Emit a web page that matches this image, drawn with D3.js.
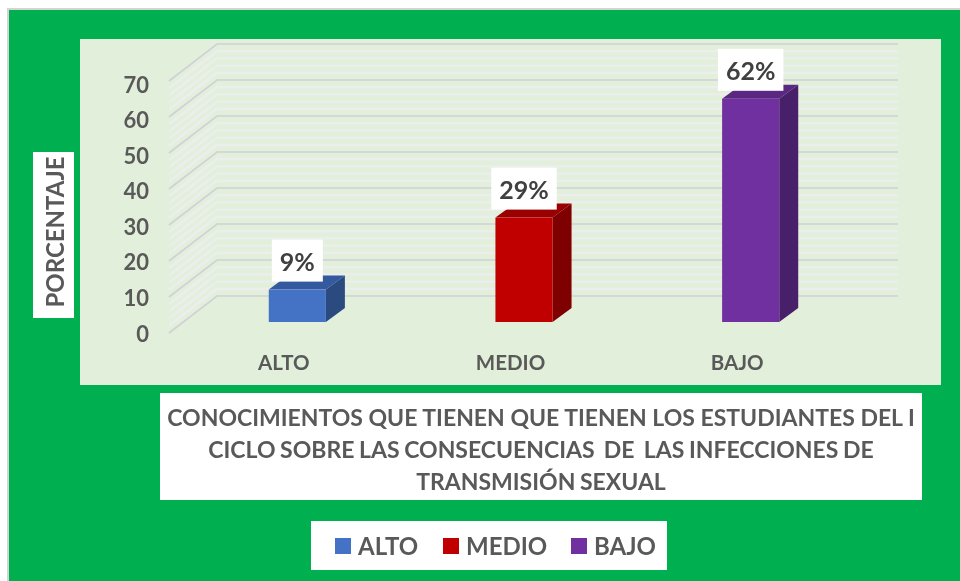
<!DOCTYPE html>
<html>
<head>
<meta charset="utf-8">
<script src="https://cdn.jsdelivr.net/npm/d3@7"></script>
<style>
  html, body { margin: 0; padding: 0; background: #fff; }
  svg { display: block; filter: blur(0.35px); }
  text { font-family: Lato, "Open Sans", sans-serif; font-weight: 700; fill: #595959; white-space: pre; }
</style>
</head>
<body>
<svg id="chart" width="960" height="581"></svg>
<script>
//=============DATA==============//
const categories = ["ALTO", "MEDIO", "BAJO"];
const values = [9, 29, 62];
const valueLabels = ["9%", "29%", "62%"];
const tickLabels = [0, 10, 20, 30, 40, 50, 60, 70];
const gridSteps = [0, 2, 4, 6, 8, 10, 12, 14, 16, 18, 20, 22, 24, 26, 28, 30, 32, 34, 36, 38, 40, 42, 44, 46, 48, 50, 52, 54, 56, 58, 60, 62, 64, 66, 68, 70];
const titleLines = [
  "CONOCIMIENTOS QUE TIENEN QUE TIENEN LOS ESTUDIANTES DEL I",
  "CICLO SOBRE LAS CONSECUENCIAS  DE  LAS INFECCIONES DE",
  "TRANSMISIÓN SEXUAL"
];
const frontColors = ["#4472C4", "#C00000", "#7030A0"];
const topColors = ["#335A9F", "#9A0000", "#5A2783"];
const sideColors = ["#2B4A80", "#7E0000", "#48206A"];

//=============SETUP==============//
const svg = d3.select("#chart");

// the bars sit in a plane between the floor front edge and the back wall
const backDx = 33, backDy = -26;   // bar plane -> back wall
const frontDx = -15, frontDy = 11; // bar plane -> front edge
const depthDx = 19, depthDy = -14; // thickness of a bar

const x = d3.scaleBand().domain(categories).range([184, 864]).paddingInner(0.748).paddingOuter(0.374);
const y = d3.scaleLinear().domain([0, 70]).range([322, 70]);
// tick labels run a little tighter than the grid in the picture
const yTicks = d3.scaleLinear().domain([0, 70]).range([334, 85]);

function box(x0, y0, w, h, fill) {
  return svg.append("rect").attr("x", x0).attr("y", y0).attr("width", w).attr("height", h).attr("fill", fill);
}

// page frame
box(7, 8, 953, 573, "#D4D4D4");
box(9, 10, 951, 571, "#00B050");
box(80, 39, 861, 346, "#E2EFDA");

//=============GRID===============//
const grid = svg.append("g").attr("fill", "none");
grid.selectAll("path")
  .data(gridSteps.slice().sort((a, b) => (a % 10 === 0) - (b % 10 === 0)))
  .enter().append("path")
  .attr("d", d => {
    const left = x.range()[0] + frontDx, wall = x.range()[0] + backDx, right = x.range()[1] + backDx + 1;
    return `M${left},${y(d) + frontDy}L${wall},${y(d) + backDy}L${right},${y(d) + backDy}`;
  })
  .attr("stroke", d => d % 10 === 0 ? "#D2D0D8" : "#ECEEEE")
  .attr("stroke-width", d => d % 10 === 0 ? 1.7 : 2.4);

//=============AXES===============//
const yAxis = d3.axisLeft(yTicks).tickValues(tickLabels).tickSize(0).tickPadding(0);
const yAxisG = svg.append("g")
  .attr("transform", "translate(149,0)")
  .call(yAxis);
yAxisG.select(".domain").remove();
yAxisG.selectAll("text").style("font-family", "Lato").style("font-size", "22px").style("font-weight", 700).attr("fill", "#595959");

const xAxis = d3.axisBottom(x).tickSize(0).tickPadding(0);
const xAxisG = svg.append("g")
  .attr("transform", "translate(-13.5,355)")
  .call(xAxis);
xAxisG.select(".domain").remove();
xAxisG.selectAll("text").style("font-family", "Lato").style("font-size", "20.5px").style("font-weight", 700).attr("fill", "#595959");

//=============BARS===============//
const bars = svg.selectAll(".bar")
  .data(categories.map((c, i) => ({ label: c, value: values[i], i: i })))
  .enter().append("g").attr("class", "bar");

bars.append("path")
  .attr("fill", d => topColors[d.i])
  .attr("d", d => {
    const l = x(d.label), r = l + x.bandwidth(), t = y(d.value);
    return `M${l},${t}L${l + depthDx},${t + depthDy}L${r + depthDx},${t + depthDy}L${r},${t}Z`;
  });
bars.append("path")
  .attr("fill", d => sideColors[d.i])
  .attr("d", d => {
    const r = x(d.label) + x.bandwidth(), t = y(d.value), b = y(0);
    return `M${r},${t}L${r + depthDx},${t + depthDy}L${r + depthDx},${b + depthDy}L${r},${b}Z`;
  });
bars.append("rect")
  .attr("fill", d => frontColors[d.i])
  .attr("x", d => x(d.label))
  .attr("y", d => y(d.value))
  .attr("width", x.bandwidth())
  .attr("height", d => y(0) - y(d.value));

// value labels on white boxes
const valueLabel = svg.selectAll(".value-label")
  .data(categories.map((c, i) => ({ label: c, value: values[i], text: valueLabels[i] })))
  .enter().append("g").attr("class", "value-label")
  .attr("transform", d => `translate(${x(d.label) + x.bandwidth() / 2},${y(d.value) - 29})`);
valueLabel.append("text")
  .attr("text-anchor", "middle").attr("y", 1.5).attr("dy", "0.36em")
  .style("font-size", "25px").style("fill", "#404040")
  .text(d => d.text);
valueLabel.insert("rect", "text")
  .attr("fill", "#fff")
  .attr("y", -21).attr("height", 42)
  .each(function() {
    const w = this.parentNode.querySelector("text").getBBox().width + 16;
    d3.select(this).attr("x", -w / 2).attr("width", w);
  });

//=============AXIS TITLE=========//
box(33, 152, 41, 166, "#fff");
svg.append("text")
  .attr("transform", "translate(55,232) rotate(-90)")
  .attr("text-anchor", "middle").attr("dy", "0.36em")
  .style("font-size", "24px")
  .text("PORCENTAJE");

//=============TITLE==============//
box(160, 393, 762, 107, "#fff");
svg.selectAll(".title-line")
  .data(titleLines)
  .enter().append("text")
  .attr("class", "title-line")
  .attr("x", 541)
  .attr("y", (d, i) => 418 + i * 32)
  .attr("text-anchor", "middle").attr("dy", "0.36em")
  .style("font-size", "23px")
  .style("word-spacing", (d, i) => i === 0 ? "0" : "-1px")
  .text(d => d);

//=============LEGEND=============//
box(311, 521, 356, 49, "#fff");
const legendX = [335, 443, 571];
const legend = svg.selectAll(".legend")
  .data(categories)
  .enter().append("g").attr("class", "legend")
  .attr("transform", (d, i) => `translate(${legendX[i]},538)`);
legend.append("rect")
  .attr("width", 16).attr("height", 16)
  .attr("fill", (d, i) => frontColors[i]);
legend.append("text")
  .attr("x", 23).attr("y", 8).attr("dy", "0.36em")
  .style("font-size", "24px")
  .text(d => d);
</script>
</body>
</html>
